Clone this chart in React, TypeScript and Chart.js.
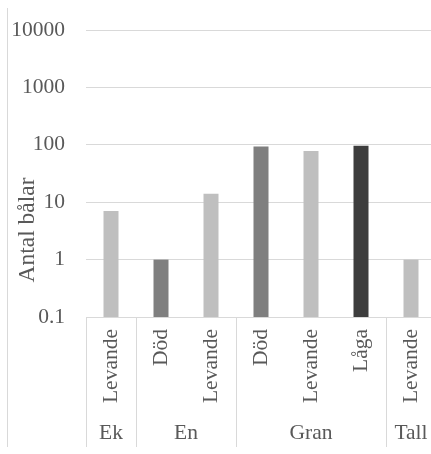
import React, { useEffect, useRef } from 'react';
import { Chart, registerables } from 'chart.js';

Chart.register(...registerables);

const groups = ['Ek', 'En', 'En', 'Gran', 'Gran', 'Gran', 'Tall'];
const subLabels = ['Levande', 'Död', 'Levande', 'Död', 'Levande', 'Låga', 'Levande'];
const values = [7, 1, 14, 93, 78, 96, 1];
const yTicks = [0.1, 1, 10, 100, 1000, 10000];
const yTitle = 'Antal bålar';
const typeColors: Record<string, string> = { Levande: '#bfbfbf', 'Död': '#7f7f7f', 'Låga': '#3d3d3d' };

const FONT = '"Liberation Serif", "Times New Roman", serif';
const TEXT = '#595959';
const GRID = '#d9d9d9';
const FS = 21.5;

export default function App() {
  const ref = useRef<HTMLCanvasElement>(null);
  useEffect(() => {
    const canvas = ref.current!;
    const decor = {
      id: 'decor',
      afterDraw(chart: any) {
        const ctx = chart.ctx as CanvasRenderingContext2D;
        const x = chart.scales.x;
        const area = chart.chartArea;
        const slot = x.getPixelForValue(1) - x.getPixelForValue(0);
        ctx.save();
        ctx.strokeStyle = GRID;
        ctx.lineWidth = 1;
        ctx.beginPath();
        ctx.moveTo(7.5, 8);
        ctx.lineTo(7.5, 447);
        ctx.stroke();
        ctx.fillStyle = TEXT;
        ctx.font = `${FS}px ${FONT}`;
        ctx.textAlign = 'center';
        ctx.textBaseline = 'middle';
        let start = 0;
        for (let i = 1; i <= groups.length; i++) {
          if (i === groups.length || groups[i] !== groups[start]) {
            const left = x.getPixelForValue(start) - slot / 2;
            const right = x.getPixelForValue(i - 1) + slot / 2;
            const lx = Math.round(left) + 0.5;
            ctx.beginPath();
            ctx.moveTo(lx, area.bottom);
            ctx.lineTo(lx, 447);
            ctx.stroke();
            if (i === groups.length) {
              const rx = Math.round(right) + 0.5;
              ctx.beginPath();
              ctx.moveTo(rx, area.bottom);
              ctx.lineTo(rx, 447);
              ctx.stroke();
            }
            ctx.fillText(groups[start], (left + right) / 2, 433);
            start = i;
          }
        }
        ctx.font = `23.5px ${FONT}`;
        ctx.translate(28, 230);
        ctx.rotate(-Math.PI / 2);
        ctx.fillText(yTitle, 0, 0);
        ctx.restore();
      },
    };
    const chart = new Chart(canvas, {
      type: 'bar',
      data: {
        labels: subLabels,
        datasets: [
          {
            data: values,
            backgroundColor: subLabels.map((s) => typeColors[s]),
            barPercentage: 0.3,
            categoryPercentage: 1,
          },
        ],
      },
      options: {
        responsive: false,
        animation: false,
        layout: { padding: { top: 30, right: 4, left: 0, bottom: 0 } },
        plugins: { legend: { display: false }, tooltip: { enabled: false } },
        scales: {
          x: {
            grid: { display: false, drawTicks: false },
            border: { display: false },
            ticks: {
              autoSkip: false,
              maxRotation: 90,
              minRotation: 90,
              padding: 12,
              color: TEXT,
              font: { family: FONT, size: FS },
            },
            afterFit: (s: any) => {
              s.height = 137;
              s.paddingLeft = 0;
              s.paddingRight = 0;
            },
          },
          y: {
            type: 'logarithmic',
            min: 0.1,
            max: 10000,
            grid: { color: GRID, drawTicks: false },
            border: { display: false },
            ticks: {
              color: TEXT,
              padding: 21,
              font: { family: FONT, size: FS },
              callback: (v: any) => String(v),
            },
            afterBuildTicks: (s: any) => {
              s.ticks = yTicks.map((v) => ({ value: v }));
            },
            afterFit: (s: any) => {
              s.width = 86;
              s.paddingTop = 0;
              s.paddingBottom = 0;
            },
          },
        },
      },
      plugins: [decor],
    } as any);
    return () => chart.destroy();
  }, []);
  return (
    <div style={{ position: 'absolute', left: 0, top: 0, width: 431, height: 454, overflow: 'hidden', background: '#fff' }}>
      <canvas ref={ref} width={440} height={454} style={{ width: 440, height: 454, display: 'block' }} />
    </div>
  );
}
